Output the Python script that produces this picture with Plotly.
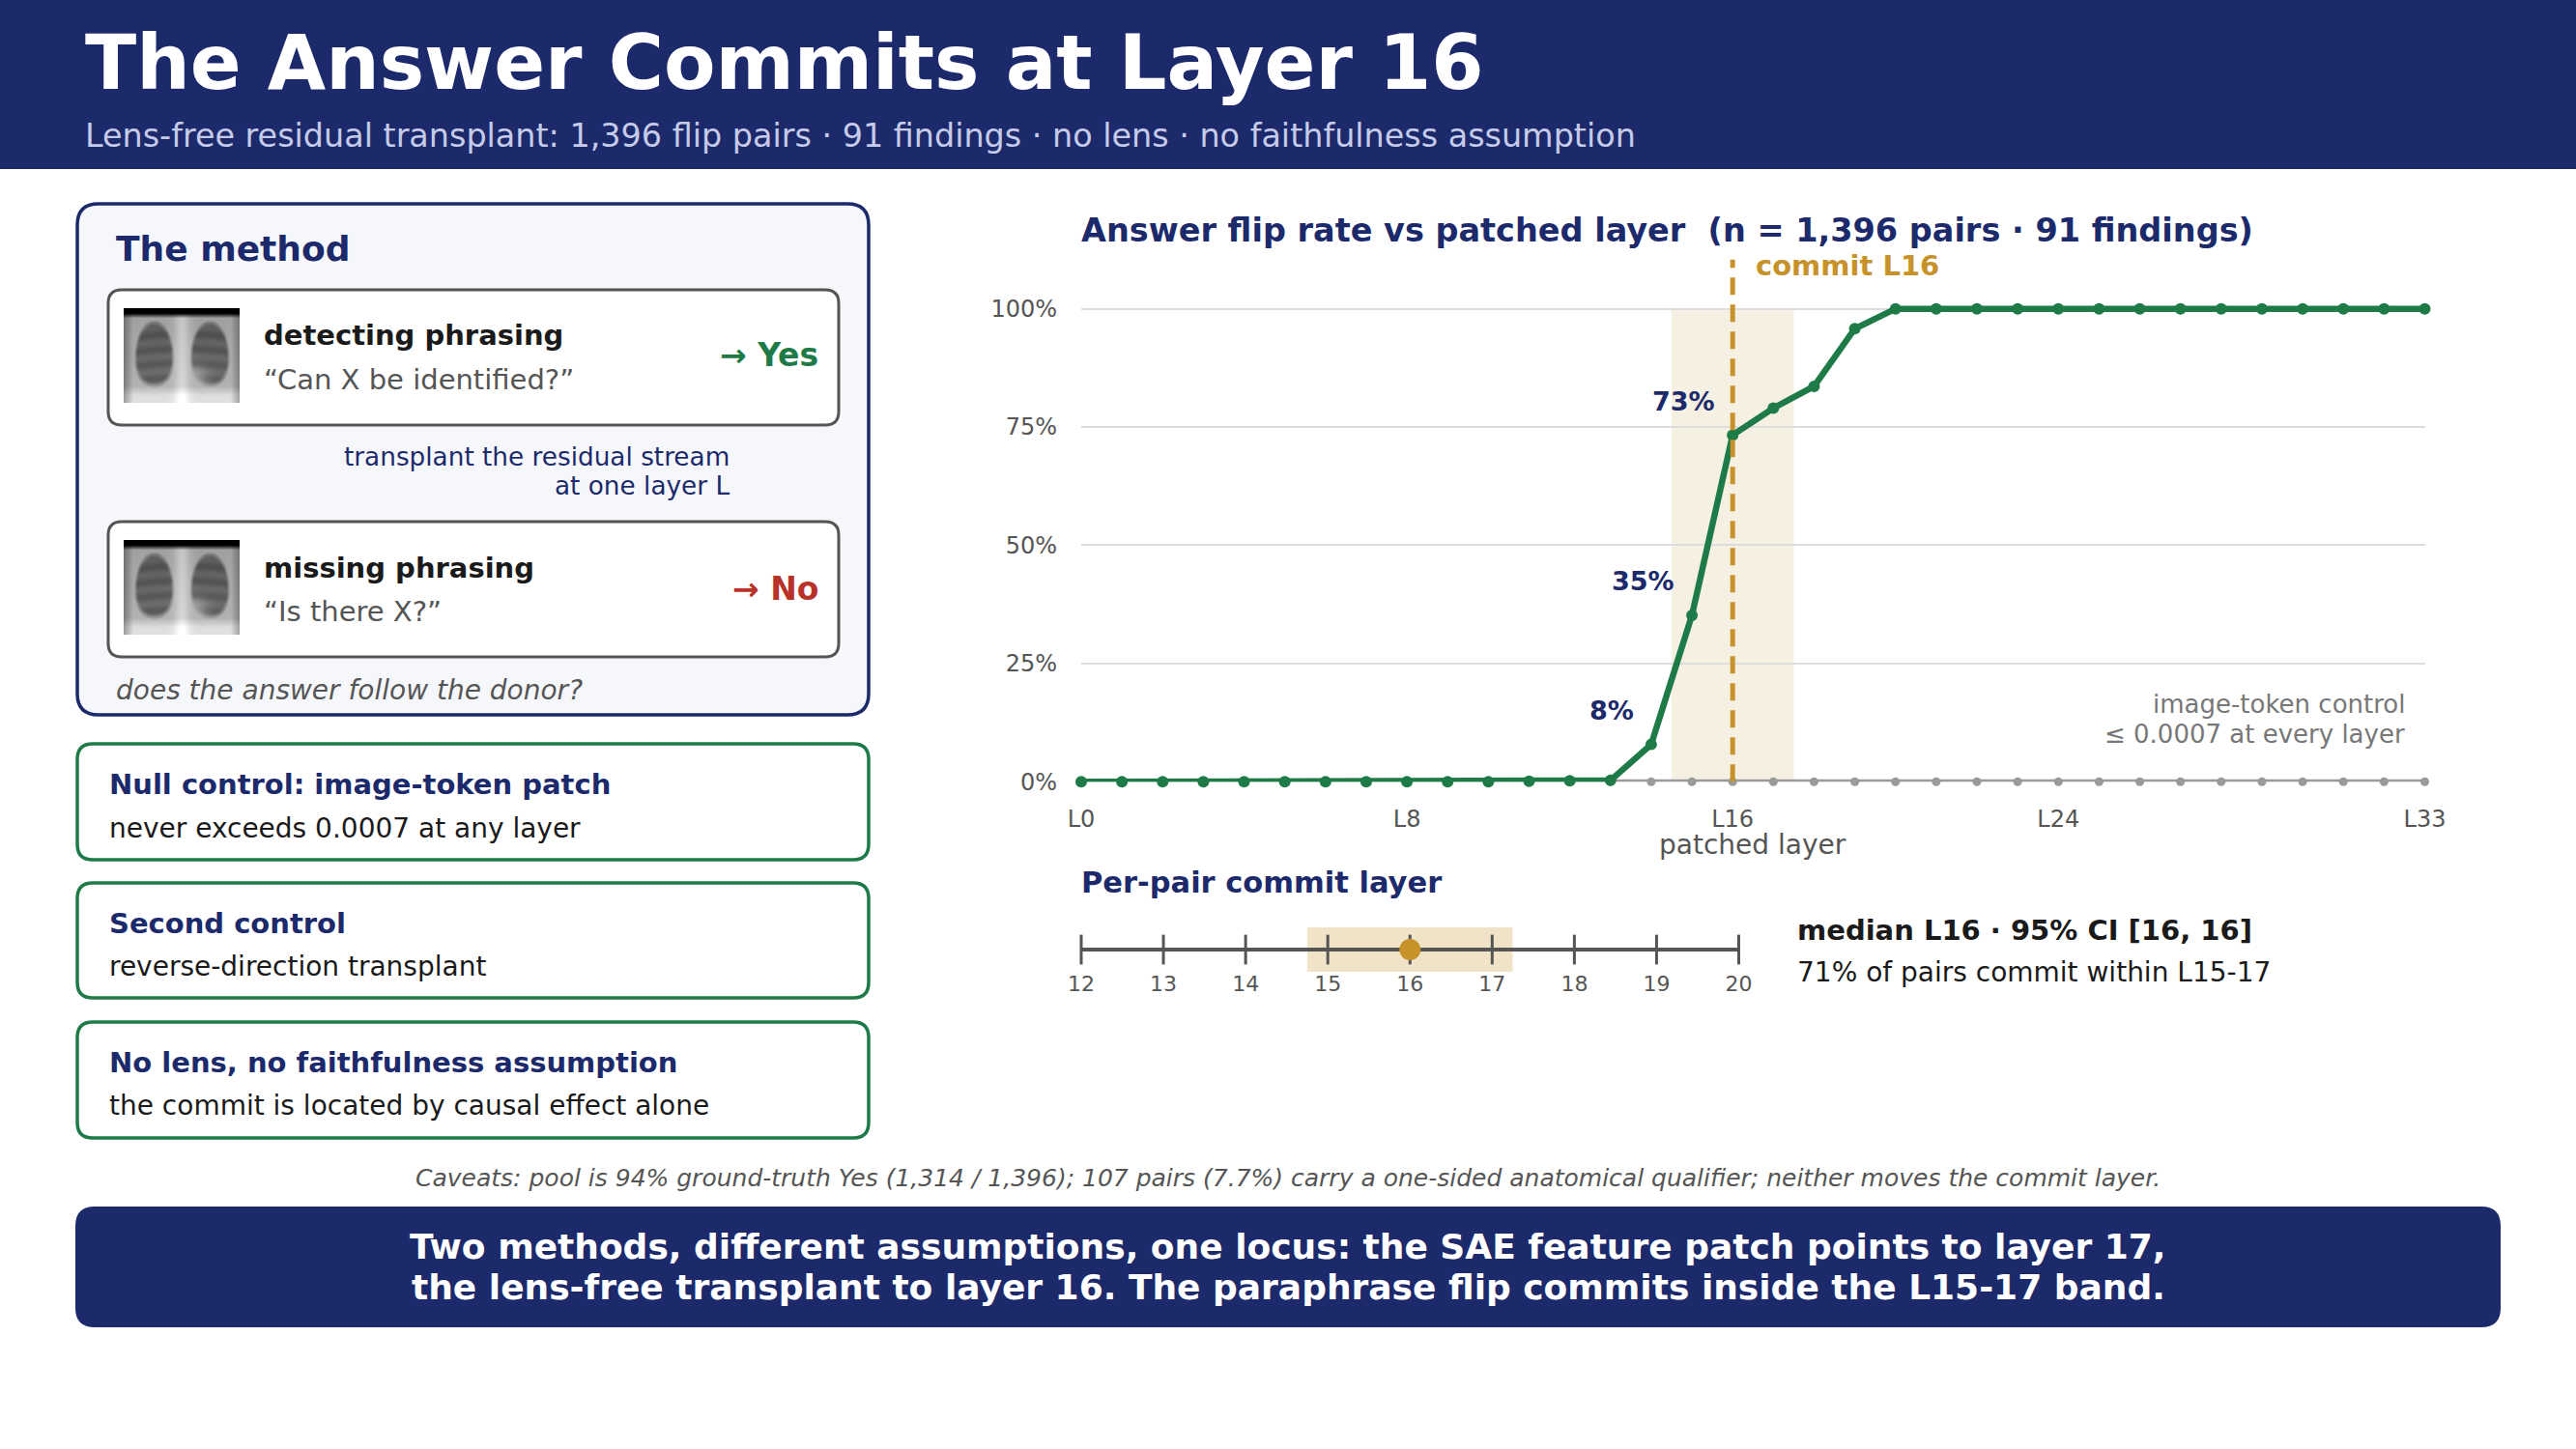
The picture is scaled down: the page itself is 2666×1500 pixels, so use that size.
import base64
import struct
import zlib

import numpy as np
import plotly.graph_objects as go

W, H = 2666, 1500
FONT = "DejaVu Sans"
NAVY = "#1c2a6b"
GREEN = "#1e7b48"
GOLD = "#c8922a"
RED = "#b83228"
GRAY = "#555555"

# ---- data ----
layers = [0, 1, 2, 3, 4, 5, 6, 7, 8, 9, 10, 11, 12, 13, 14, 15, 16,
          17, 18, 19, 20, 21, 22, 23, 24, 25, 26, 27, 28, 29, 30, 31, 32, 33]
flip_rate = [0.0, 0.0, 0.0, 0.0, 0.0, 0.0, 0.0, 0.0, 0.0, 0.0, 0.0, 0.1, 0.2, 0.3,
             7.9, 35.2, 73.3, 79.0, 83.6, 95.8,
             100, 100, 100, 100, 100, 100, 100, 100, 100, 100, 100, 100, 100, 100]
control_rate = [0.0, 0.0, 0.0, 0.0, 0.0, 0.0, 0.0, 0.0, 0.0, 0.0, 0.0, 0.0,
                0.0, 0.0, 0.0, 0.0, 0.0, 0.0, 0.0, 0.0, 0.0, 0.0, 0.0, 0.0,
                0.0, 0.0, 0.0, 0.0, 0.0, 0.0, 0.0, 0.0, 0.0, 0.0]
labelled_layers = [14, 15, 16]
x_tickvals = [0, 8, 16, 24, 33]
x_ticktext = ["L0", "L8", "L16", "L24", "L33"]
y_tickvals = [0, 25, 50, 75, 100]
y_ticktext = ["0%", "25%", "50%", "75%", "100%"]
commit_layer = 16
commit_band = [15, 17]

strip_ticks = [12, 13, 14, 15, 16, 17, 18, 19, 20]
pair_median = 16
pair_ci = [16, 16]
pct_within_band = 71


def px(x):
    return x / W


def py(y):
    return 1 - y / H


def rrect(x0, y0, x1, y1, r, fill, line_color=None, line_width=0):
    path = (f"M {px(x0 + r)},{py(y0)} L {px(x1 - r)},{py(y0)} "
            f"Q {px(x1)},{py(y0)} {px(x1)},{py(y0 + r)} L {px(x1)},{py(y1 - r)} "
            f"Q {px(x1)},{py(y1)} {px(x1 - r)},{py(y1)} L {px(x0 + r)},{py(y1)} "
            f"Q {px(x0)},{py(y1)} {px(x0)},{py(y1 - r)} L {px(x0)},{py(y0 + r)} "
            f"Q {px(x0)},{py(y0)} {px(x0 + r)},{py(y0)} Z")
    return dict(type="path", xref="paper", yref="paper", path=path,
                fillcolor=fill, layer="below",
                line=dict(color=line_color or fill, width=line_width))


annotations = []


def text(x, y, s, size, color, bold=False, italic=False, anchor="left"):
    annotations.append(dict(
        xref="paper", yref="paper", x=px(x), y=py(y), text=s, showarrow=False,
        xanchor=anchor, yanchor="middle",
        font=dict(family=FONT, size=size, color=color,
                  weight="bold" if bold else "normal",
                  style="italic" if italic else "normal")))


# small stylised chest x-ray thumbnail, encoded as a png data uri
def xray_uri(w=120, h=98):
    yy, xx = np.mgrid[0:h, 0:w]
    u = (xx - w / 2) / (w / 2)
    v = yy / h
    img = 0.62 + 0.10 * v
    lungs = np.zeros_like(img)
    for s in (-1, 1):
        du = np.abs((u - s * 0.48) / (0.30 + 0.10 * v))
        dv = np.abs((v - 0.48) / 0.36)
        d = du ** 2.2 + dv ** 2.2
        lungs += np.clip((1.0 - d) / 0.35, 0, 1)
    lungs = np.clip(lungs, 0, 1)
    heart = np.exp(-(((u - 0.20) / 0.22) ** 2 + ((v - 0.75) / 0.14) ** 2))
    ribs = np.sin(2 * np.pi * (v * 6.5 - 0.35 * u ** 2))
    img = img - 0.30 * lungs + 0.25 * heart * lungs + 0.035 * ribs * lungs
    img += 0.14 * np.exp(-(u / 0.13) ** 2)
    img += 0.16 * np.clip((v - 0.82) / 0.10, 0, 1)
    img *= 0.70 + 0.30 * np.clip((1.0 - np.abs(u)) / 0.16, 0, 1)
    img *= np.clip((v - 0.05) / 0.05, 0, 1)
    arr = (np.clip(img, 0, 1) * 255).astype(np.uint8)
    raw = b"".join(b"\x00" + arr[i].tobytes() for i in range(h))

    def chunk(tag, data):
        return (struct.pack(">I", len(data)) + tag + data
                + struct.pack(">I", zlib.crc32(tag + data) & 0xffffffff))

    png = (b"\x89PNG\r\n\x1a\n"
           + chunk(b"IHDR", struct.pack(">IIBBBBB", w, h, 8, 0, 0, 0, 0))
           + chunk(b"IDAT", zlib.compress(raw))
           + chunk(b"IEND", b""))
    return "data:image/png;base64," + base64.b64encode(png).decode()


fig = go.Figure()

# main chart
fig.add_trace(go.Scatter(
    x=layers, y=control_rate, mode="lines+markers",
    line=dict(color="#9a9a9a", width=5), marker=dict(size=9, color="#9a9a9a"),
    cliponaxis=False, showlegend=False, hoverinfo="skip"))
fig.add_trace(go.Scatter(
    x=layers, y=flip_rate, mode="lines+markers",
    line=dict(color=GREEN, width=6.5), marker=dict(size=12, color=GREEN),
    cliponaxis=False, showlegend=False, hoverinfo="skip"))

# per-pair strip
fig.add_trace(go.Scatter(
    x=[strip_ticks[0], strip_ticks[-1]], y=[0, 0], mode="lines",
    line=dict(color=GRAY, width=4), xaxis="x2", yaxis="y2",
    showlegend=False, hoverinfo="skip", cliponaxis=False))
fig.add_trace(go.Scatter(
    x=strip_ticks, y=[0] * len(strip_ticks), mode="markers",
    marker=dict(symbol="line-ns", size=22, line=dict(color=GRAY, width=3)),
    xaxis="x2", yaxis="y2", showlegend=False, hoverinfo="skip", cliponaxis=False))
fig.add_trace(go.Scatter(
    x=[pair_median], y=[0], mode="markers",
    marker=dict(size=22, color=GOLD), xaxis="x2", yaxis="y2",
    showlegend=False, hoverinfo="skip", cliponaxis=False))

shapes = [
    dict(type="rect", xref="paper", yref="paper", x0=0, x1=1, y0=py(175), y1=1,
         fillcolor=NAVY, line=dict(width=0), layer="below"),
    rrect(80, 211, 899, 740, 22, "#f6f7fb", NAVY, 3.5),
    rrect(112, 300, 868, 440, 14, "white", GRAY, 3),
    rrect(112, 540, 868, 680, 14, "white", GRAY, 3),
    rrect(80, 770, 899, 890, 16, "white", GREEN, 3.5),
    rrect(80, 914, 899, 1033, 16, "white", GREEN, 3.5),
    rrect(80, 1058, 899, 1178, 16, "white", GREEN, 3.5),
    rrect(78, 1249, 2588, 1374, 20, NAVY),
    dict(type="rect", xref="x", yref="y", x0=commit_band[0] - 0.5,
         x1=commit_band[1] + 0.5, y0=0, y1=100,
         fillcolor="#f6f0e3", line=dict(width=0), layer="below"),
    dict(type="line", xref="x", yref="y", x0=commit_layer, x1=commit_layer,
         y0=0, y1=110.4, line=dict(color=GOLD, width=5, dash="18px,10px"),
         layer="above"),
    dict(type="rect", xref="x2", yref="paper", x0=commit_band[0] - 0.25,
         x1=commit_band[1] + 0.25, y0=py(1006), y1=py(960),
         fillcolor="#f1e3c8", line=dict(width=0), layer="below"),
]

# header
text(86, 65, "The Answer Commits at Layer 16", 78, "white", bold=True)
text(86, 140, "Lens-free residual transplant: 1,396 flip pairs · 91 findings · "
     "no lens · no faithfulness assumption", 33.4, "#c5cbe8")

# method panel
text(118, 258, "The method", 36, NAVY, bold=True)
text(271, 347, "detecting phrasing", 29, "#1a1a1a", bold=True)
text(271, 393, "“Can X be identified?”", 29, GRAY)
text(849, 368, "→ Yes", 33, GREEN, bold=True, anchor="right")
text(757, 473, "transplant the residual stream", 26.3, NAVY, anchor="right")
text(757, 503, "at one layer L", 26.3, NAVY, anchor="right")
text(271, 588, "missing phrasing", 29, "#1a1a1a", bold=True)
text(271, 633, "“Is there X?”", 29, GRAY)
text(849, 609, "→ No", 33, RED, bold=True, anchor="right")
text(118, 714, "does the answer follow the donor?", 28, GRAY, italic=True)

# control boxes
text(111, 812, "Null control: image-token patch", 29, NAVY, bold=True)
text(111, 857, "never exceeds 0.0007 at any layer", 28, "#1a1a1a")
text(111, 956, "Second control", 29, NAVY, bold=True)
text(111, 1000, "reverse-direction transplant", 28, "#1a1a1a")
text(111, 1100, "No lens, no faithfulness assumption", 29, NAVY, bold=True)
text(111, 1144, "the commit is located by causal effect alone", 28, "#1a1a1a")

# chart texts
text(1117, 238, "Answer flip rate vs patched layer\u00a0 (n = 1,396 pairs · 91 findings)",
     33.5, NAVY, bold=True)
annotations.append(dict(
    xref="x", yref="paper", x=commit_layer, y=py(275), xshift=22,
    text=f"commit L{commit_layer}", showarrow=False, xanchor="left", yanchor="middle",
    font=dict(family=FONT, size=29, color=GOLD, weight="bold")))
for lay in labelled_layers:
    annotations.append(dict(
        xref="x", yref="y", x=lay, y=flip_rate[lay], xshift=-16, yshift=35,
        text=f"{round(flip_rate[lay])}%", showarrow=False,
        xanchor="right", yanchor="middle",
        font=dict(family=FONT, size=27, color=NAVY, weight="bold")))
text(2491, 729, "image-token control", 26, "#777777", anchor="right")
text(2491, 760, "≤ 0.0007 at every layer", 26, "#777777", anchor="right")
text(1814, 874, "patched layer", 28, GRAY, anchor="center")

# strip texts
text(1117, 913, "Per-pair commit layer", 30.5, NAVY, bold=True)
text(1858, 963, f"median L{pair_median} · 95% CI [{pair_ci[0]}, {pair_ci[1]}]",
     29, "#1a1a1a", bold=True)
text(1858, 1006, f"{pct_within_band}% of pairs commit within "
     f"L{commit_band[0]}-{commit_band[1]}", 28, "#1a1a1a")

# footer
text(1333, 1219, "Caveats: pool is 94% ground-truth Yes (1,314 / 1,396); 107 pairs (7.7%) "
     "carry a one-sided anatomical qualifier; neither moves the commit layer.",
     25, GRAY, italic=True, anchor="center")
text(1333, 1290, "Two methods, different assumptions, one locus: the SAE feature patch "
     "points to layer 17,", 36, "white", bold=True, anchor="center")
text(1333, 1332, "the lens-free transplant to layer 16. The paraphrase flip commits "
     "inside the L15-17 band.", 36, "white", bold=True, anchor="center")

uri = xray_uri()
images = [dict(source=uri, xref="paper", yref="paper", x=px(128), y=py(y_top),
               sizex=120 / W, sizey=98 / H, xanchor="left", yanchor="top",
               sizing="stretch", layer="above")
          for y_top in (319, 559)]

fig.update_layout(
    template="none",
    width=W, height=H, autosize=False,
    margin=dict(l=0, r=0, t=0, b=0),
    paper_bgcolor="white", plot_bgcolor="white",
    font=dict(family=FONT, color=GRAY),
    xaxis=dict(domain=[px(1119), px(2509.5)], range=[0, 33],
               tickvals=x_tickvals, ticktext=x_ticktext, showgrid=False,
               zeroline=False, showline=False, ticks="",
               tickfont=dict(family=FONT, size=24, color=GRAY),
               ticklabelstandoff=22, automargin=False),
    yaxis=dict(domain=[py(809.3), py(260.9)], range=[0, 112],
               tickvals=y_tickvals, ticktext=y_ticktext, showgrid=True,
               gridcolor="#dddddd", gridwidth=2, zeroline=False, showline=False,
               ticks="", tickfont=dict(family=FONT, size=24, color=GRAY),
               ticklabelstandoff=24, automargin=False),
    xaxis2=dict(domain=[px(1119), px(1799.5)], range=[12, 20], anchor="y2",
                tickvals=strip_ticks, showgrid=False, zeroline=False,
                showline=False, ticks="",
                tickfont=dict(family=FONT, size=22, color=GRAY),
                ticklabelstandoff=4, automargin=False),
    yaxis2=dict(domain=[py(999), py(960)], range=[-16 / 23, 1], anchor="x2",
                visible=False, automargin=False),
    shapes=shapes,
    annotations=annotations,
    images=images,
    showlegend=False,
)

fig.write_html("out.html", config={"displayModeBar": False},
               post_script="document.body.style.margin='0';")
